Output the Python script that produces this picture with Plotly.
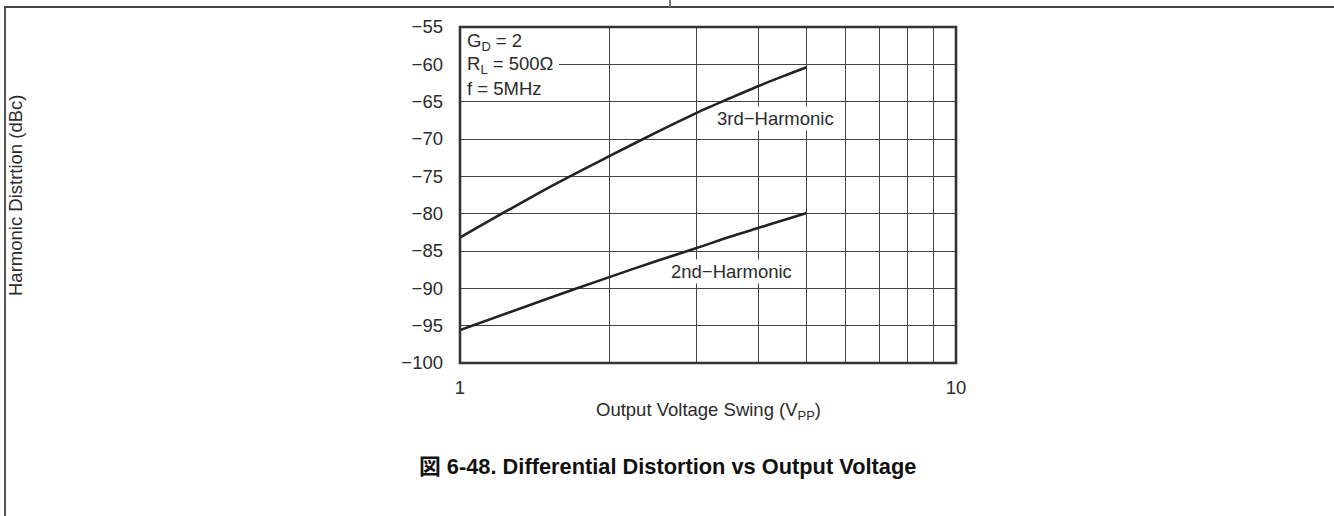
import plotly.graph_objects as go

# Output voltage swing (Vpp) sample points
vout = [1, 1.5, 2, 2.5, 3, 3.5, 4, 4.5, 5]
# Harmonic distortion (dBc)
third_harmonic = [-83.2, -76.6, -72.3, -69.05, -66.5, -64.55, -62.9, -61.55, -60.4]
second_harmonic = [-95.6, -91.4, -88.5, -86.3, -84.6, -83.1, -81.9, -80.85, -79.9]

x_major = [1, 10]
x_major_labels = ["1", "10"]
x_minor = [2, 3, 4, 5, 6, 7, 8, 9]
y_ticks = [-55, -60, -65, -70, -75, -80, -85, -90, -95, -100]
y_ticklabels = ["\u2212" + str(-v) for v in y_ticks]

W, H = 1334, 516
L, R, T, B = 460, 956, 27, 363  # plot area in pixels
FONT = "Liberation Sans, Arial, Noto Sans CJK JP, sans-serif"
INK = "#2b2b2b"
GRID = "#444444"
FS = 18.5


def px(x):
    return (x - L) / (R - L)


def py(y):
    return (B - y) / (B - T)


fig = go.Figure()
for vals in (third_harmonic, second_harmonic):
    fig.add_trace(go.Scatter(x=vout, y=vals, mode="lines",
                             line=dict(color="#222222", width=2.6, shape="spline", smoothing=0.8),
                             showlegend=False, hoverinfo="skip"))

shapes = [
    # white panel behind the test conditions
    dict(type="rect", xref="paper", yref="paper", x0=0, x1=px(559), y0=py(99), y1=1,
         fillcolor="white", line=dict(width=0), layer="above"),
    # plot frame
    dict(type="rect", xref="paper", yref="paper", x0=0, x1=1, y0=0, y1=1,
         line=dict(color="#333333", width=2.6), layer="above"),
    # page frame
    dict(type="line", xref="paper", yref="paper", x0=px(5), x1=px(5), y0=py(6), y1=py(530),
         line=dict(color="#555555", width=2)),
    dict(type="line", xref="paper", yref="paper", x0=px(4), x1=px(1340), y0=py(7), y1=py(7),
         line=dict(color="#444444", width=2)),
    dict(type="line", xref="paper", yref="paper", x0=px(670), x1=px(670), y0=py(-2), y1=py(7),
         line=dict(color="#777777", width=2)),
]

ann = []
cond = ["G<sub>D</sub> = 2", "R<sub>L</sub> = 500\u03a9", "f = 5MHz"]
for i, t in enumerate(cond):
    ann.append(dict(text=t, xref="paper", yref="paper", x=px(465), y=py(42 + 23 * i),
                    xanchor="left", yanchor="middle", showarrow=False,
                    font=dict(family=FONT, size=FS, color=INK)))

ann.append(dict(text="3rd\u2212Harmonic", xref="paper", yref="paper", x=px(775), y=py(118),
                xanchor="center", yanchor="middle", showarrow=False, bgcolor="white",
                borderpad=1, font=dict(family=FONT, size=FS, color=INK)))
ann.append(dict(text="2nd\u2212Harmonic", xref="paper", yref="paper", x=px(731), y=py(271),
                xanchor="center", yanchor="middle", showarrow=False, bgcolor="white",
                borderpad=1, font=dict(family=FONT, size=FS, color=INK)))

ann.append(dict(text="Output Voltage Swing (V<sub>PP</sub>)", xref="paper", yref="paper",
                x=px(708), y=py(411), xanchor="center", yanchor="middle", showarrow=False,
                font=dict(family=FONT, size=FS, color=INK)))
ann.append(dict(text="Harmonic Distrtion (dBc)", xref="paper", yref="paper",
                x=px(15), y=py(195), xanchor="center", yanchor="middle", showarrow=False,
                textangle=-90, font=dict(family=FONT, size=FS, color=INK)))
ann.append(dict(text="<b>\u56f3 6-48. Differential Distortion vs Output Voltage</b>",
                xref="paper", yref="paper", x=px(667), y=py(466), xanchor="center",
                yanchor="middle", showarrow=False,
                font=dict(family=FONT, size=21.8, color="#111111")))

fig.update_layout(
    width=W, height=H,
    margin=dict(l=L, r=W - R, t=T, b=H - B, pad=0),
    paper_bgcolor="white", plot_bgcolor="white",
    shapes=shapes, annotations=ann,
    xaxis=dict(type="log", range=[0, 1], tickvals=x_major, ticktext=x_major_labels,
               showgrid=True, gridcolor=GRID, gridwidth=1, zeroline=False,
               showline=False, ticks="", ticklabelstandoff=11,
               minor=dict(tickvals=x_minor, showgrid=True, gridcolor=GRID, gridwidth=1, ticks=""),
               tickfont=dict(family=FONT, size=FS, color=INK)),
    yaxis=dict(range=[-100, -55], tickvals=y_ticks, ticktext=y_ticklabels,
               showgrid=True, gridcolor=GRID, gridwidth=1, zeroline=False,
               showline=False, ticks="", ticklabelstandoff=16,
               tickfont=dict(family=FONT, size=FS, color=INK)),
)

fig.write_html("out.html")
